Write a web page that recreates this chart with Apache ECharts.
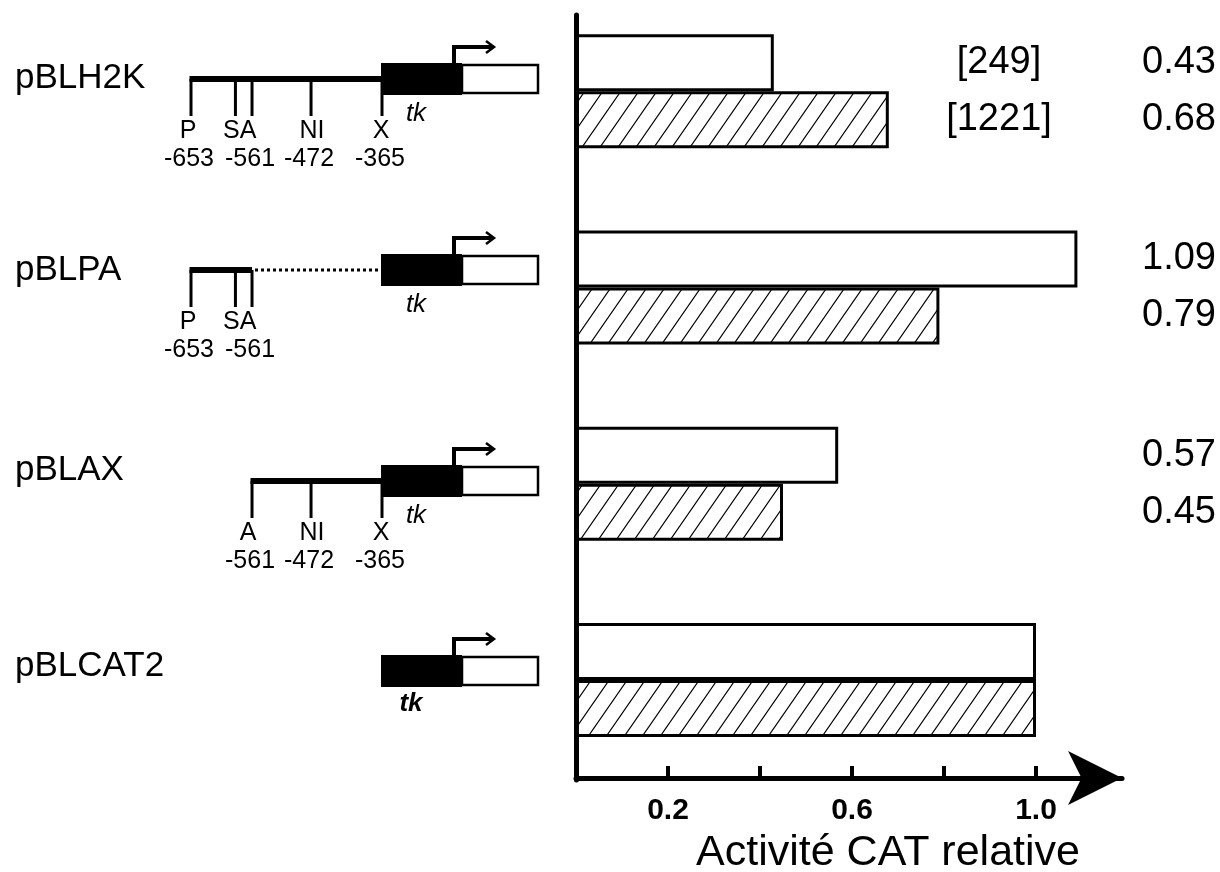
<!DOCTYPE html>
<html><head><meta charset="utf-8">
<script src="https://cdn.jsdelivr.net/npm/echarts@6/dist/echarts.min.js"></script>
<style>html,body{margin:0;padding:0;background:#fff}#c{width:1220px;height:872px}</style>
</head><body><div id="c"></div>
<script>
// ---------- data ----------
const categories = ['pBLH2K', 'pBLPA', 'pBLAX', 'pBLCAT2'];
const whiteValues = [0.43, 1.09, 0.57, 1.00];
const hatchedValues = [0.68, 0.79, 0.45, 1.00];
const whiteCounts = ['[249]', '', '', ''];
const hatchedCounts = ['[1221]', '', '', ''];
const valueShown = [true, true, true, false];
const xTicks = [0.2, 0.4, 0.6, 0.8, 1.0];
const xTickLabels = [0.2, 0.6, 1.0];
const axisTitle = 'Activité CAT relative';
// construct maps (positions in bp)
const siteNames = ['P', 'S', 'A', 'NI', 'X'];
const siteBp = [-653, -586, -561, -472, -365];
const constructSites = [['P', 'S', 'A', 'NI', 'X'], ['P', 'S', 'A'], ['A', 'NI', 'X'], []];
const constructNumbers = [[-653, -561, -472, -365], [-653, -561], [-561, -472, -365], []];
const constructSolidEnd = [-365, -561, -365, null];
const constructDottedTo = [null, -365, null, null];

// ---------- layout / style ----------
const FONT = "'Liberation Sans', Arial, Helvetica, sans-serif";
const AX0 = 576, PXPER = 460;   // x of 0 and px per unit
const XMAX = 1.187;
const bp2x = bp => 191 + (bp + 653) * (382 - 191) / 288;
const rowBoxY = [79, 270, 481, 671];
const rowLabelY = [78, 270, 470, 666];
const labelOffX = {P: -3, S: -4, A: -4, NI: 1, X: -1};

function hatchPattern() {
  const W = 18, H = 26;
  const c = document.createElement('canvas');
  c.width = W; c.height = H;
  const g = c.getContext('2d');
  g.fillStyle = '#fff'; g.fillRect(0, 0, W, H);
  g.strokeStyle = '#000'; g.lineWidth = 1.2;
  g.beginPath();
  [0, W, 2 * W].forEach(cc => { g.moveTo(cc + W, -H); g.lineTo(cc - 2 * W, 2 * H); });
  g.stroke();
  return {image: c, repeat: 'repeat'};
}

function makeLabel(counts) {
  return {
    show: true,
    position: [333, '50%'],
    align: 'left', verticalAlign: 'middle',
    formatter: p => valueShown[p.dataIndex]
      ? '{c|' + (counts[p.dataIndex] || ' ') + '}{v|' + p.value.toFixed(2) + '}' : '',
    rich: {
      c: {width: 180, align: 'center', fontSize: 38, fontFamily: FONT, color: '#000'},
      v: {width: 180, align: 'center', fontSize: 38, fontFamily: FONT, color: '#000'}
    }
  };
}

// ---------- left construct drawings ----------
const gfx = [];
function txt(t, x, y, size, opts) {
  gfx.push({type: 'text', z: 10, style: Object.assign({text: t, x: x, y: y, fontSize: size, fontFamily: FONT,
    fill: '#000', align: 'center', verticalAlign: 'middle'}, opts || {})});
}
function ln(pts, w, dash) {
  gfx.push({type: 'polyline', z: 10, shape: {points: pts},
    style: {stroke: '#000', lineWidth: w, fill: null, lineDash: dash || null, lineCap: 'butt', lineJoin: 'miter'}});
}
categories.forEach((name, r) => {
  const yc = rowBoxY[r];
  txt(name, 15, rowLabelY[r], 35, {align: 'left'});
  gfx.push({type: 'rect', z: 10, shape: {x: 381, y: yc - 16, width: 81, height: 32}, style: {fill: '#000'}});
  gfx.push({type: 'rect', z: 10, shape: {x: 462, y: yc - 14, width: 76, height: 28}, style: {fill: '#fff', stroke: '#000', lineWidth: 2.5}});
  ln([[454, yc - 16], [454, yc - 32], [493, yc - 32]], 4);
  ln([[486, yc - 38], [494, yc - 32], [486, yc - 26]], 2.5);
  if (r === 3) txt('tk', 411, yc + 33, 26, {fontStyle: 'italic', fontWeight: 'bold'});
  else txt('tk', 416, yc + 35, 26, {fontStyle: 'italic'});
  const ss = constructSites[r];
  if (ss.length) {
    const x0 = bp2x(siteBp[siteNames.indexOf(ss[0])]);
    ln([[x0 - 1.5, yc], [bp2x(constructSolidEnd[r]), yc]], 6);
    if (constructDottedTo[r] !== null) ln([[bp2x(constructSolidEnd[r]) + 3, yc], [bp2x(constructDottedTo[r]) - 2, yc]], 3, [3, 3]);
    ss.forEach(s => {
      const x = bp2x(siteBp[siteNames.indexOf(s)]);
      ln([[x, yc], [x, yc + 37]], 3);
      txt(s, x + labelOffX[s], yc + 52, 25);
    });
    constructNumbers[r].forEach(n => txt(String(n), bp2x(n) - 2, yc + 80, 25));
  }
});

// ---------- chart ----------
const chart = echarts.init(document.getElementById('c'));
chart.setOption({
  animation: false,
  backgroundColor: '#fff',
  grid: [
    {left: AX0, top: -7, width: XMAX * PXPER, height: 785, outerBoundsMode: 'none', containLabel: false},
    {left: AX0, top: 15, width: 100, height: 765, outerBoundsMode: 'none', containLabel: false}
  ],
  xAxis: [
    {type: 'value', gridIndex: 0, min: 0, max: XMAX,
     axisLine: {show: true, lineStyle: {color: '#000', width: 5}, symbol: ['none', 'arrow'], symbolSize: [40.5, 54]},
     axisTick: {show: true, customValues: xTicks, inside: true, length: 12, lineStyle: {color: '#000', width: 4}},
     axisLabel: {customValues: xTickLabels, formatter: v => v.toFixed(1), fontWeight: 'bold', fontSize: 30,
                 color: '#000', margin: 18, fontFamily: FONT},
     splitLine: {show: false},
     name: axisTitle, nameLocation: 'middle', nameGap: 54,
     nameTextStyle: {fontSize: 43, color: '#000', fontFamily: FONT, padding: [0, 0, 0, 78]}},
    {type: 'value', gridIndex: 1, min: 0, max: 1, show: false}
  ],
  yAxis: [
    {type: 'category', gridIndex: 0, data: categories, inverse: true,
     axisLine: {show: false}, axisTick: {show: false}, axisLabel: {show: false}},
    {type: 'value', gridIndex: 1, min: 0, max: 1,
     axisLine: {show: true, lineStyle: {color: '#000', width: 5}},
     axisTick: {show: false}, axisLabel: {show: false}, splitLine: {show: false}}
  ],
  series: [
    {type: 'bar', name: 'control', data: whiteValues, barWidth: 57, barGap: '0%',
     itemStyle: {color: '#fff', borderColor: '#000', borderWidth: 3}, label: makeLabel(whiteCounts)},
    {type: 'bar', name: 'treated', data: hatchedValues, barWidth: 57, barGap: '0%',
     itemStyle: {color: hatchPattern(), borderColor: '#000', borderWidth: 3}, label: makeLabel(hatchedCounts)}
  ],
  graphic: gfx
});
</script></body></html>
